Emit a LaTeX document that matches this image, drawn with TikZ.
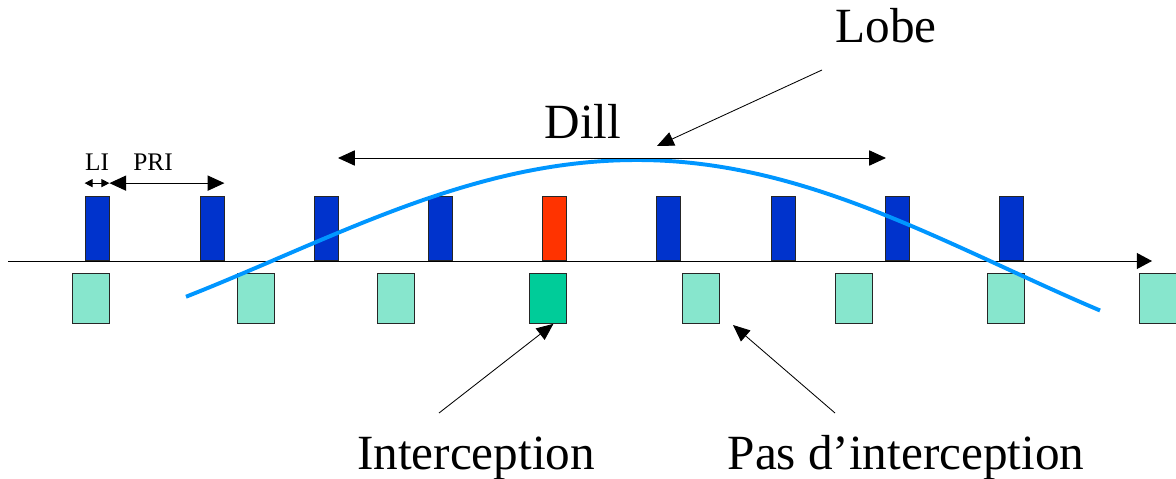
\documentclass[tikz,border=0pt]{standalone}
\usepackage{fontspec}
\setmainfont{Liberation Serif}
\usetikzlibrary{arrows.meta}
\definecolor{pulseblue}{RGB}{0,51,204}
\definecolor{hitred}{RGB}{255,51,0}
\definecolor{hitgreen}{RGB}{0,204,153}
\definecolor{missgreen}{RGB}{135,230,205}
\definecolor{lobeblue}{RGB}{0,150,255}
\tikzset{bar/.style={draw=black!85,line width=0.6pt,inner sep=0pt,minimum width=0.6cm,
 minimum height=1.6cm,anchor=south},
 win/.style={draw=black!85,line width=0.6pt,inner sep=0pt,minimum width=0.925cm,
 minimum height=1.25cm,anchor=north},
 big/.style={font=\fontsize{35}{40}\selectfont,inner sep=0pt,anchor=base},
 tiny/.style={font=\fontsize{18}{20}\selectfont,inner sep=0pt,anchor=base},
 arr/.style={-{Triangle[length=0.42cm,width=0.36cm]},line width=0.6pt},
 twoarr/.style={{Triangle[length=0.42cm,width=0.38cm]}-{Triangle[length=0.42cm,width=0.38cm]},line width=0.7pt},
 liarr/.style={{Triangle[length=0.2cm,width=0.2cm]}-{Triangle[length=0.2cm,width=0.2cm]},line width=0.7pt}}
\begin{document}
\begin{tikzpicture}[x=0.025cm,y=-0.025cm]
\useasboundingbox (0,0) rectangle (1176,479);
% pulses above the axis, windows below
\foreach \xc/\col [count=\i from 0] in {97/pulseblue,212/pulseblue,326/pulseblue,440/pulseblue,
 554/hitred,668/pulseblue,783/pulseblue,897/pulseblue,1011/pulseblue}
 \node[bar,fill=\col] (p\i) at (\xc,261) {};
\foreach \xc/\col [count=\i from 0] in {90.5/missgreen,255.5/missgreen,396/missgreen,548/hitgreen,
 700.5/missgreen,853.5/missgreen,1006/missgreen,1158/missgreen}
 \node[win,fill=\col] (w\i) at (\xc,273) {};
\coordinate (ax0) at (8,261);
\coordinate (ax1) at (1152,261);
\draw[-{Triangle[length=0.38cm,width=0.4cm]},line width=0.7pt] (ax0) -- (ax1);
% lobe
\draw[lobeblue,line width=2.8pt] plot[domain=186:1100,samples=80,smooth]
 (\x,{160+98*(1-cos(0.2512*(\x-637)))+(\x>637)*((\x-637)*0.0065)^2});
\node[big] (lobe) at (886,43) {Lobe};
\node[big] (dill) at (583,138) {Dill};
\node[big] (inter) at (476,469) {Interception};
\node[big] (nointer) at (906,469) {Pas d’interception};
\node[tiny] (li) at (97,170) {LI};
\node[tiny] (pri) at (153,170) {PRI};
\coordinate (dL) at (338,158);
\coordinate (dR) at (886,158);
\draw[twoarr] (dL) -- (dR);
\coordinate (lobeS) at (822,70);
\coordinate (lobeT) at (657,146);
\draw[arr] (lobeS) -- (lobeT);
\coordinate (interS) at (439,413);
\draw[arr] (interS) -- (w3.-78);
\coordinate (noS) at (835,413);
\coordinate (noT) at (733,325);
\draw[arr] (noS) -- (noT);
\draw[liarr] ([yshift=0.325cm]p0.north west) -- ([yshift=0.325cm]p0.north east);
\draw[twoarr] ([yshift=0.325cm]p0.north east) -- ([yshift=0.325cm]p1.north east);
\end{tikzpicture}
\end{document}
